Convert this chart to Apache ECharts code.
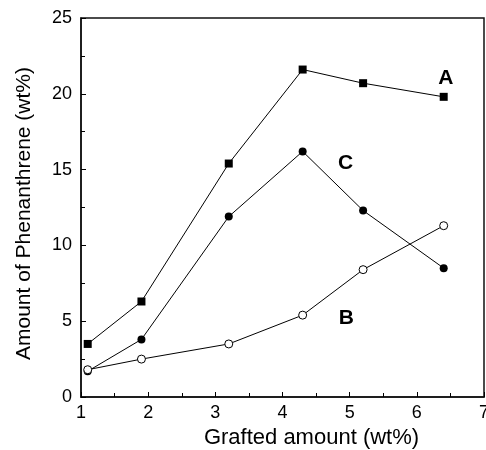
<!DOCTYPE html>
<html>
<head>
<meta charset="utf-8">
<script src="https://cdn.jsdelivr.net/npm/echarts@6/dist/echarts.min.js"></script>
<style>
  html, body { margin: 0; padding: 0; background: #fff; }
  #chart { width: 486px; height: 450px; }
</style>
</head>
<body>
<div id="chart"></div>
<script>
// grafted amount (wt%)
var grafted = [1.1, 1.9, 3.2, 4.3, 5.2, 6.4];
// amount of phenanthrene (wt%)
var seriesA = [3.5, 6.3, 15.4, 21.6, 20.7, 19.8];
var seriesB = [1.8, 2.5, 3.5, 5.4, 8.4, 11.3];
var seriesC = [1.7, 3.8, 11.9, 16.2, 12.3, 8.5];
// letter tags placed in data coordinates
var tagA = [6.43, 21.0];
var tagB = [4.95, 5.2];
var tagC = [4.94, 15.4];

function pairs(ys) {
    return grafted.map(function (x, i) { return [x, ys[i]]; });
}

function tag(txt, c) {
    return {
        symbol: 'circle',
        symbolSize: 0,
        data: [{ coord: c, value: txt }],
        label: {
            show: true,
            position: 'inside',
            formatter: txt,
            color: '#000',
            fontSize: 21,
            fontWeight: 'bold',
            fontFamily: 'Liberation Sans'
        }
    };
}

var myChart = echarts.init(document.getElementById('chart'));
var font = 'Liberation Sans';

var option = {
    animation: false,
    backgroundColor: '#fff',
    grid: {
        left: 81, right: 2, top: 18, bottom: 53,
        outerBoundsMode: 'none',
        containLabel: false,
        show: true, borderColor: '#111', borderWidth: 1.5
    },
    xAxis: {
        type: 'value',
        min: 1, max: 7, interval: 1,
        name: 'Grafted amount (wt%)',
        nameLocation: 'middle',
        nameGap: 29,
        nameTextStyle: { fontSize: 22, color: '#000', fontFamily: font, padding: [0, 0, 0, 58] },
        axisLine: { lineStyle: { color: '#111', width: 1.5 } },
        axisTick: { inside: true, length: 5, lineStyle: { color: '#000' } },
        minorTick: { show: true, splitNumber: 2, length: 4, lineStyle: { color: '#000' } },
        axisLabel: { fontSize: 18, color: '#000', fontFamily: font, margin: 7 },
        splitLine: { show: false }
    },
    yAxis: {
        type: 'value',
        min: 0, max: 25, interval: 5,
        name: 'Amount of Phenanthrene (wt%)',
        nameLocation: 'middle',
        nameGap: 46,
        nameTextStyle: { fontSize: 21, color: '#000', fontFamily: font, padding: [0, 12, 0, 0] },
        axisLine: { lineStyle: { color: '#111', width: 1.5 } },
        axisTick: { inside: true, length: 5, lineStyle: { color: '#000' } },
        minorTick: { show: true, splitNumber: 2, length: 4, lineStyle: { color: '#000' } },
        axisLabel: { fontSize: 18, color: '#000', fontFamily: font, margin: 9 },
        splitLine: { show: false }
    },
    series: [
        {
            name: 'A',
            type: 'line',
            data: pairs(seriesA),
            symbol: 'rect',
            symbolSize: 8,
            itemStyle: { color: '#000' },
            lineStyle: { color: '#000', width: 1 },
            markPoint: tag('A', tagA)
        },
        {
            name: 'C',
            type: 'line',
            data: pairs(seriesC),
            symbol: 'circle',
            symbolSize: 8,
            itemStyle: { color: '#000' },
            lineStyle: { color: '#000', width: 1 },
            markPoint: tag('C', tagC)
        },
        {
            name: 'B',
            type: 'line',
            data: pairs(seriesB),
            symbol: 'circle',
            symbolSize: 8,
            itemStyle: { color: '#fff', borderColor: '#000', borderWidth: 1 },
            lineStyle: { color: '#000', width: 1 },
            markPoint: tag('B', tagB)
        }
    ]
};

option && myChart.setOption(option);
</script>
</body>
</html>
